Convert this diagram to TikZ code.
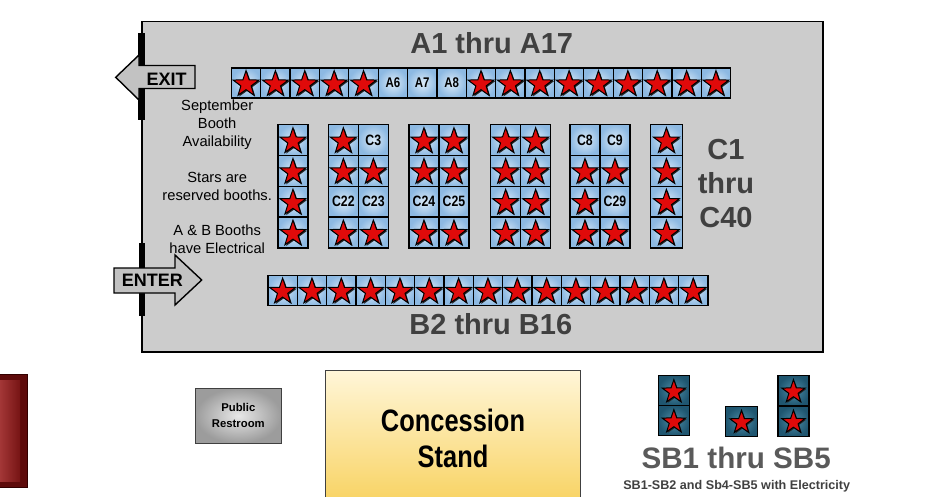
\documentclass[tikz,border=0pt]{standalone}
\usepackage{fontspec}
\setmainfont{Liberation Sans}
\newfontfamily\narrowfont[FakeStretch=0.82]{Liberation Sans}
\definecolor{roomgray}{HTML}{CCCCCC}
\definecolor{titlegray}{HTML}{404040}
\definecolor{sbgray}{HTML}{5A5A5A}
\definecolor{boothin}{HTML}{DCEBF8}
\definecolor{boothout}{HTML}{8DB9E2}
\definecolor{starred}{HTML}{E00A0A}
\definecolor{arrowgray}{HTML}{C2C2C2}
\definecolor{sbin}{HTML}{4C8DA8}
\definecolor{sbout}{HTML}{1F5670}
\definecolor{darkline}{HTML}{404040}
\definecolor{concTop}{HTML}{FFF6D8}
\definecolor{concBot}{HTML}{F8D260}
\definecolor{redout}{HTML}{5E0B0B}
\definecolor{redlight}{HTML}{A53838}
\definecolor{reddark}{HTML}{761414}
\definecolor{restin}{HTML}{E8E8E8}
\definecolor{restout}{HTML}{9C9C9C}
\tikzset{
  booth/.style={draw=black, line width=1.3pt, inner color=boothin, outer color=boothout,
    minimum height=30pt, inner sep=0pt, anchor=north west},
  boothlabel/.style={font=\narrowfont\bfseries\fontsize{15}{15}\selectfont, inner sep=0pt, text=black},
  sbbooth/.style={draw=black, line width=1.3pt, inner color=sbin, outer color=sbout,
    minimum width=31pt, minimum height=30pt, inner sep=0pt, anchor=north west},
  bigtitle/.style={font=\bfseries\fontsize{29}{29}\selectfont, text=titlegray, anchor=base, inner sep=0pt},
  notetext/.style={font=\fontsize{14.7}{18}\selectfont, anchor=base, inner sep=0pt},
  arrowshape/.style={draw=black, line width=1.4pt, fill=arrowgray, line join=miter},
  arrowtext/.style={font=\bfseries\fontsize{18}{18}\selectfont, anchor=base, inner sep=0pt},
  starmark/.pic={
    \fill[black!85, shift={(1.2,1.2)}] (270:13.6) -- (306:5.4) -- (342:13.6) -- (18:5.4) -- (54:13.6) -- (90:5.4) -- (126:13.6) -- (162:5.4) -- (198:13.6) -- (234:5.4) -- cycle;
    \draw[fill=starred, line width=1pt, line join=miter] (270:13.6) -- (306:5.4) -- (342:13.6) -- (18:5.4) -- (54:13.6) -- (90:5.4) -- (126:13.6) -- (162:5.4) -- (198:13.6) -- (234:5.4) -- cycle;
  },
}
\begin{document}
\begin{tikzpicture}[x=1pt,y=-1pt]
\useasboundingbox (0,0) rectangle (947,497);
\fill[white] (0,0) rectangle (947,497);

% hall
\node[draw=black, line width=1.5pt, fill=roomgray, minimum width=681pt, minimum height=330pt,
  anchor=north west, inner sep=0pt] (room) at (141,21) {};

% wall openings
\fill[black] (138,33) rectangle (145,120);
\fill[black] (139,243) rectangle (145,316);

% EXIT arrow
\draw[arrowshape] (195,65.5) -- (139,65.5) -- (139,55) -- (115.7,77.3) -- (139,100) -- (139,88.5) -- (195,88.5) -- cycle;
\node[arrowtext] (exit) at (166.7,86) {EXIT};
% ENTER arrow
\draw[arrowshape] (114,268) -- (175,268) -- (175,255) -- (201.7,280) -- (175,305) -- (175,293) -- (114,293) -- cycle;
\node[arrowtext] (enter) at (152.3,286.7) {ENTER};

% titles
\node[bigtitle] (atitle) at (491.7,53.3) {A1 thru A17};
\node[bigtitle] (btitle) at (490.8,334) {B2 thru B16};
\node[bigtitle] (ctitle1) at (726,160) {C1};
\node[bigtitle] (ctitle2) at (726,193.3) {thru};
\node[bigtitle] (ctitle3) at (726,227.3) {C40};

% notes
\foreach \n/\yy/\t in {1/110.7/September, 2/128.5/Booth, 3/146.3/Availability,
   4/182.5/Stars are, 5/200.3/reserved booths., 6/235.5/A \& B Booths, 7/253.3/have Electrical} {
  \node[notetext] (note\n) at (217.2,\yy) {\t};
}

% A row
\foreach \i in {1,...,17} {
  \node[booth, minimum width=29.37pt] (A\i) at ({230.7+29.37*(\i-1)},67.3) {};
}
\foreach \i in {6,7,8} {
  \node[boothlabel, font=\narrowfont\bfseries\fontsize{14}{14}\selectfont] (lA\i) at (A\i.center) {A\i};
}
\foreach \i in {1,2,3,4,5,9,10,11,12,13,14,15,16,17} {
  \pic at ([yshift=-1.3pt]A\i.center) {starmark};
}

% C blocks
\foreach \k/\bx/\nc/\w in {1/277.3/1/30, 2/327.7/2/30, 3/408.3/2/30, 4/490/2/30, 5/569.3/2/30, 6/650/1/31.5} {
  \foreach \r in {0,...,3} {
    \node[booth, minimum width=\w pt, minimum height=30.8pt] (k\k-a\r) at (\bx,{124+30.8*\r}) {};
    \ifnum\nc=2
      \node[booth, minimum width=\w pt, minimum height=30.8pt] (k\k-b\r) at ({\bx+30},{124+30.8*\r}) {};
    \fi
  }
}
\node[boothlabel] (lC3) at (k2-b0.center) {C3};
\node[boothlabel] (lC22) at (k2-a2.center) {C22};
\node[boothlabel] (lC23) at (k2-b2.center) {C23};
\node[boothlabel] (lC24) at (k3-a2.center) {C24};
\node[boothlabel] (lC25) at (k3-b2.center) {C25};
\node[boothlabel] (lC8) at (k5-a0.center) {C8};
\node[boothlabel] (lC9) at (k5-b0.center) {C9};
\node[boothlabel] (lC29) at (k5-b2.center) {C29};
\foreach \c in {k1-a0,k1-a1,k1-a2,k1-a3,
                k2-a0,k2-a1,k2-b1,k2-a3,k2-b3,
                k3-a0,k3-b0,k3-a1,k3-b1,k3-a3,k3-b3,
                k4-a0,k4-b0,k4-a1,k4-b1,k4-a2,k4-b2,k4-a3,k4-b3,
                k5-a1,k5-b1,k5-a2,k5-a3,k5-b3,
                k6-a0,k6-a1,k6-a2,k6-a3} {
  \pic at ([yshift=-1.3pt]\c.center) {starmark};
}

% B row
\foreach \i in {2,...,16} {
  \node[booth, minimum width=29.33pt, minimum height=30.5pt] (B\i) at ({267.3+29.33*(\i-2)},274.5) {};
  \pic at ([yshift=-1.3pt]B\i.center) {starmark};
}

% bottom left red block
\node[fill=redout, draw=black!80!red, line width=0.8pt, minimum width=28pt, minimum height=113.3pt,
  anchor=north west, inner sep=0pt] (redbox) at (-1.3,374) {};
\node[left color=redlight, right color=reddark, minimum width=21pt, minimum height=101pt,
  anchor=north west, inner sep=0pt] (redinner) at (-1,380) {};

% restroom
\node[draw=darkline, line width=1pt, inner color=restin, outer color=restout,
  minimum width=85.7pt, minimum height=55pt, anchor=north west, inner sep=0pt,
  align=center, font=\bfseries\fontsize{11.3}{16}\selectfont] (restroom) at (195,387.7) {Public\\Restroom};

% concession
\node[draw=darkline, line width=1pt, top color=concTop, bottom color=concBot,
  minimum width=255pt, minimum height=135pt, anchor=north west, inner sep=0pt,
  align=center, font=\narrowfont\bfseries\fontsize{31}{36}\selectfont] (concession) at (325,370) {Concession\\Stand};

% SB booths
\node[sbbooth] (sb1) at (657.7,375) {};
\node[sbbooth] (sb2) at (657.7,405) {};
\node[sbbooth, minimum width=31.7pt] (sb3) at (725,405.7) {};
\node[sbbooth] (sb4) at (777.3,375) {};
\node[sbbooth] (sb5) at (777.3,405.5) {};
\foreach \s in {sb1,sb2,sb3,sb4,sb5} {
  \pic[scale=0.9] at ([yshift=-1.2pt]\s.center) {starmark};
}
\node[bigtitle, text=sbgray, font=\bfseries\fontsize{29.6}{29.6}\selectfont] (sbtitle) at (736.2,468.3) {SB1 thru SB5};
\node[anchor=base, inner sep=0pt, text=titlegray, font=\bfseries\fontsize{12.6}{12.6}\selectfont] (sbnote) at (736.7,489) {SB1-SB2 and Sb4-SB5 with Electricity};
\end{tikzpicture}
\end{document}
